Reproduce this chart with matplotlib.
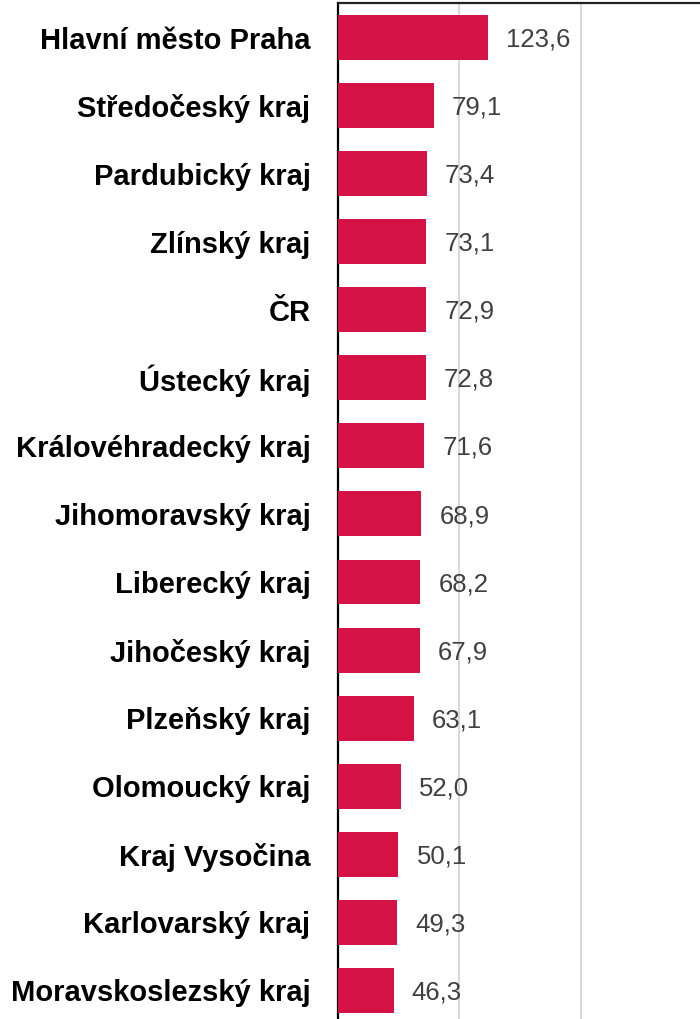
import matplotlib
matplotlib.use("Agg")
import matplotlib.pyplot as plt

categories = ["Hlavní město Praha", "Středočeský kraj", "Pardubický kraj", "Zlínský kraj",
              "ČR", "Ústecký kraj", "Královéhradecký kraj", "Jihomoravský kraj",
              "Liberecký kraj", "Jihočeský kraj", "Plzeňský kraj", "Olomoucký kraj",
              "Kraj Vysočina", "Karlovarský kraj", "Moravskoslezský kraj"]
values = [123.6, 79.1, 73.4, 73.1, 72.9, 72.8, 71.6, 68.9, 68.2, 67.9, 63.1, 52.0, 50.1, 49.3, 46.3]
grid_ticks = [100, 200]

plt.rcParams['font.family'] = ['Liberation Sans', 'DejaVu Sans']

W, H = 700, 1019
fig = plt.figure(figsize=(W / 100, H / 100), dpi=100)
left = 337.5 / W
ax = fig.add_axes([left, 0, 364.5 / W, 1016 / H])

y = list(range(len(categories)))
ax.barh(y, values, height=0.66, color="#D41245", zorder=3)

for yi, v in zip(y, values):
    ax.annotate(f"{v:.1f}".replace(".", ","), (v, yi), xytext=(13, -1.5),
                textcoords="offset points", ha="left", va="center",
                fontsize=18.5, color="#404040", zorder=4)

ax.set_xlim(0, 300)
ax.set_ylim(14.42, -0.507)
ax.set_xticks(grid_ticks)
ax.xaxis.grid(True, color="#d9d9d9", linewidth=1.5, zorder=0)
ax.tick_params(axis="x", length=0, labelbottom=False)
ax.set_yticks(y)
ax.set_yticklabels(categories, fontsize=21, fontweight="bold", color="black")
ax.tick_params(axis="y", length=0, pad=19.5)

for s in ["bottom", "right"]:
    ax.spines[s].set_visible(False)
ax.spines["left"].set_linewidth(1.6)
ax.spines["left"].set_color("black")
ax.spines["top"].set_linewidth(1.6)
ax.spines["top"].set_color("#222222")

fig.savefig("out.png", dpi=100)
